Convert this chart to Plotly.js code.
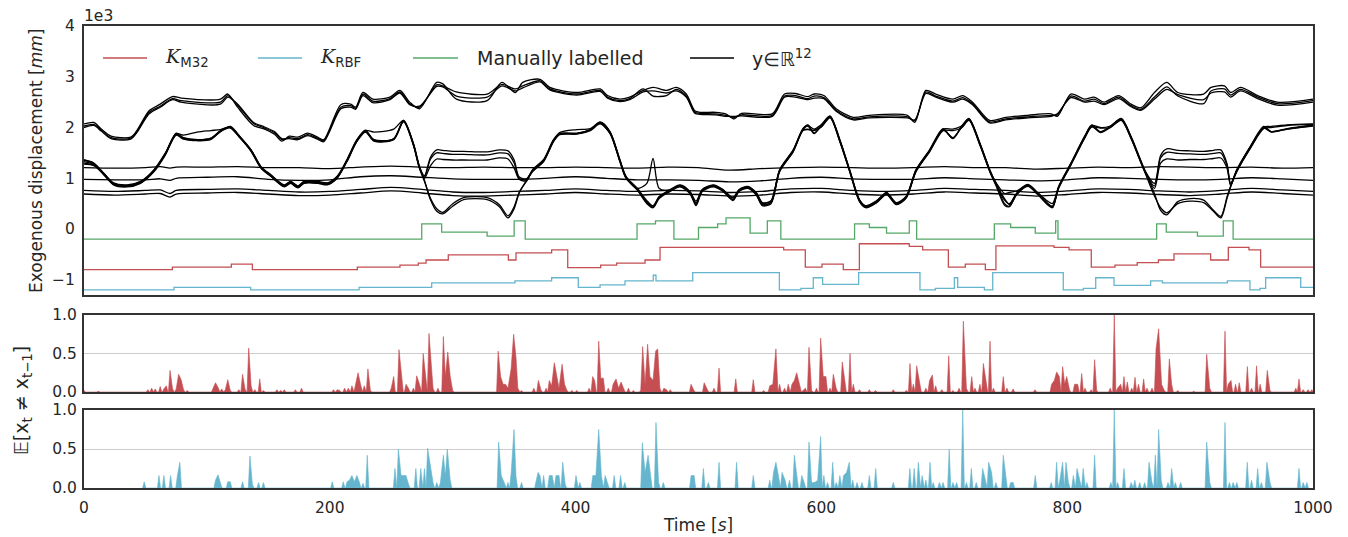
<!DOCTYPE html>
<html><head><meta charset="utf-8">
<script src="https://cdn.plot.ly/plotly-3.0.1.min.js"></script>
<style>html,body{margin:0;padding:0;background:#fff}#chart{width:1348px;height:537px}</style>
</head><body><div id="chart"></div>
<script>
// ---------- data (values in units of 1e3 mm for the top panel) ----------
const tA = [0,8,14,22,38,43,53,62,72,79,111,117,125,138,147,155,161,167,174,182,190,195,209,217,221,227,235,249,257,265,273,287,292,303,328,340,351,357,371,379,401,420,426,436,444,455,463,474,482,490,497,501,514,522,529,535,560,570,579,589,594,602,612,626,639,670,676,685,693,707,715,723,737,750,768,787,792,803,814,822,830,842,852,860,871,881,890,911,917,928,933,941,955,971,1000];
const yA1 = [2.07,2.10,1.97,1.83,1.81,1.94,2.33,2.46,2.61,2.58,2.56,2.66,2.40,2.04,1.97,1.87,1.73,1.83,1.81,1.89,1.81,1.76,2.45,2.46,2.40,2.69,2.56,2.60,2.73,2.50,2.37,2.89,2.86,2.56,2.53,2.89,2.69,2.89,2.95,2.79,2.69,2.76,2.63,2.56,2.60,2.73,2.79,2.73,2.79,2.66,2.33,2.30,2.30,2.27,2.17,2.28,2.27,2.66,2.67,2.61,2.66,2.63,2.37,2.20,2.24,2.24,2.10,2.73,2.66,2.56,2.63,2.50,2.14,2.20,2.24,2.27,2.22,2.66,2.56,2.60,2.50,2.63,2.46,2.39,2.69,2.89,2.69,2.66,2.79,2.82,2.69,2.79,2.63,2.50,2.56];
const yA2 = [2.03,2.06,1.95,1.80,1.79,1.92,2.30,2.42,2.57,2.53,2.50,2.63,2.44,2.08,1.99,1.90,1.76,1.80,1.78,1.86,1.79,1.74,2.40,2.43,2.38,2.66,2.52,2.57,2.70,2.47,2.40,2.84,2.82,2.70,2.66,2.85,2.76,2.82,2.92,2.76,2.66,2.73,2.60,2.53,2.57,2.76,2.62,2.63,2.75,2.62,2.30,2.28,2.27,2.24,2.20,2.25,2.24,2.62,2.63,2.57,2.62,2.59,2.34,2.17,2.21,2.21,2.13,2.70,2.62,2.52,2.59,2.47,2.11,2.17,2.21,2.24,2.25,2.62,2.52,2.56,2.47,2.60,2.43,2.36,2.60,2.80,2.62,2.47,2.72,2.76,2.64,2.75,2.60,2.47,2.53];
const yA3 = [2.00,2.04,1.93,1.78,1.77,1.90,2.27,2.40,2.55,2.50,2.46,2.60,2.46,2.10,2.01,1.92,1.78,1.78,1.76,1.84,1.77,1.72,2.37,2.40,2.36,2.63,2.49,2.55,2.68,2.45,2.42,2.81,2.80,2.62,2.60,2.82,2.72,2.78,2.90,2.74,2.64,2.71,2.58,2.51,2.55,2.70,2.72,2.68,2.72,2.60,2.28,2.26,2.25,2.22,2.22,2.23,2.22,2.60,2.60,2.55,2.58,2.57,2.32,2.15,2.19,2.19,2.15,2.67,2.60,2.50,2.56,2.45,2.09,2.15,2.19,2.22,2.27,2.59,2.50,2.52,2.45,2.57,2.41,2.34,2.56,2.75,2.65,2.55,2.68,2.70,2.60,2.72,2.57,2.44,2.50];

const tB = [0,8,16,24,35,46,57,66,75,81,92,103,111,119,127,136,144,152,163,168,174,179,190,198,206,214,222,229,236,252,260,268,273,277,282,287,292,300,309,328,338,345,350,354,360,365,374,382,387,401,412,420,428,436,441,450,458,463,468,477,485,493,498,503,512,520,528,533,540,547,552,559,566,577,585,589,594,600,607,615,623,631,636,645,653,661,669,677,688,699,707,714,720,729,737,742,749,753,759,768,776,784,788,793,803,814,820,827,835,844,852,863,871,876,881,890,900,911,919,925,930,933,938,949,960,966,979,1000];
const yB1 = [1.36,1.29,1.09,0.90,0.86,0.93,1.16,1.48,1.88,1.85,1.91,1.94,1.96,2.01,1.81,1.55,1.22,1.06,0.86,0.93,0.84,0.93,0.93,0.90,1.03,1.36,1.75,1.94,1.91,1.97,2.14,1.68,1.22,1.05,1.42,1.56,1.55,1.53,1.53,1.52,1.56,1.54,1.36,1.03,0.99,1.16,1.36,1.75,1.90,1.96,1.98,2.10,1.91,1.36,1.03,0.80,0.90,1.39,0.80,0.77,0.86,0.73,0.55,0.77,0.86,0.77,0.62,0.77,0.83,0.72,0.52,0.56,1.16,1.55,1.97,2.04,1.97,2.06,2.22,1.75,1.16,0.57,0.46,0.56,0.72,0.52,0.65,1.16,1.55,1.97,1.97,2.03,2.17,1.68,1.16,0.92,0.70,0.72,0.75,0.88,0.72,0.55,0.50,0.83,1.29,1.81,2.04,2.00,2.03,2.17,1.81,1.16,0.90,1.45,1.58,1.55,1.54,1.53,1.55,1.56,1.29,0.90,1.16,1.62,2.01,2.02,2.05,2.07];
const yB2 = [1.33,1.27,1.07,0.88,0.84,0.91,1.14,1.46,1.86,1.80,1.76,1.79,1.93,2.00,1.80,1.53,1.20,1.04,0.84,0.91,0.82,0.91,0.91,0.88,1.01,1.34,1.73,1.92,1.76,1.78,2.12,1.66,1.20,1.02,1.38,1.50,1.49,1.47,1.47,1.46,1.50,1.48,1.30,1.00,0.97,1.14,1.34,1.73,1.87,1.88,1.95,2.08,1.89,1.34,1.01,0.78,0.54,0.46,0.63,0.75,0.84,0.71,0.50,0.75,0.84,0.75,0.58,0.75,0.81,0.68,0.48,0.53,1.14,1.53,1.95,1.97,1.95,2.02,2.20,1.73,1.14,0.55,0.44,0.54,0.70,0.50,0.63,1.14,1.53,1.95,1.80,2.00,2.15,1.66,1.14,0.88,0.57,0.50,0.70,0.86,0.70,0.50,0.44,0.81,1.27,1.79,2.02,1.91,2.01,2.15,1.79,1.14,0.85,1.40,1.51,1.49,1.48,1.47,1.49,1.50,1.25,0.88,1.14,1.60,1.99,1.91,1.97,2.03];
const yB3 = [1.30,1.26,1.10,0.91,0.87,0.94,1.17,1.49,1.87,1.78,1.75,1.78,1.92,2.02,1.82,1.56,1.23,1.07,0.87,0.94,0.85,0.94,0.94,0.91,1.04,1.37,1.76,1.95,1.75,1.77,2.13,1.69,1.23,1.00,1.25,1.38,1.37,1.36,1.36,1.36,1.40,1.38,1.20,0.98,0.95,1.17,1.37,1.76,1.88,1.89,1.96,2.11,1.92,1.37,1.04,0.81,0.56,0.45,0.64,0.78,0.87,0.74,0.52,0.78,0.87,0.78,0.61,0.78,0.84,0.71,0.51,0.55,1.17,1.56,1.98,2.05,1.89,2.05,2.23,1.76,1.17,0.58,0.45,0.55,0.71,0.51,0.64,1.17,1.56,1.98,1.78,2.02,2.18,1.69,1.17,0.90,0.60,0.48,0.71,0.87,0.71,0.51,0.45,0.84,1.30,1.82,2.05,1.92,2.02,2.18,1.82,1.17,0.80,1.30,1.38,1.36,1.37,1.37,1.39,1.40,1.20,0.86,1.17,1.63,2.02,1.92,1.98,2.05];
const yB4 = [1.36,1.30,1.10,0.89,0.85,0.92,1.15,1.47,1.89,1.79,1.76,1.78,1.94,2.01,1.81,1.55,1.22,1.06,0.85,0.92,0.83,0.92,0.92,0.89,1.02,1.35,1.74,1.93,1.74,1.78,2.14,1.67,1.21,0.96,0.57,0.35,0.30,0.45,0.58,0.58,0.44,0.22,0.40,0.70,0.96,1.15,1.35,1.74,1.88,1.88,1.96,2.09,1.90,1.35,1.02,0.79,0.52,0.43,0.62,0.76,0.85,0.72,0.48,0.76,0.85,0.76,0.58,0.76,0.82,0.69,0.48,0.52,1.15,1.54,1.96,2.03,1.88,2.03,2.21,1.74,1.15,0.56,0.43,0.53,0.69,0.49,0.62,1.15,1.54,1.96,1.79,2.01,2.16,1.67,1.15,0.89,0.50,0.45,0.69,0.85,0.69,0.49,0.43,0.82,1.28,1.80,2.03,1.90,2.00,2.16,1.80,1.15,0.70,0.37,0.28,0.54,0.60,0.57,0.37,0.25,0.63,0.85,1.15,1.61,2.00,1.92,1.97,2.04];
const yB5 = [1.28,1.25,1.08,0.87,0.83,0.90,1.13,1.45,1.85,1.77,1.74,1.76,1.92,1.99,1.79,1.53,1.20,1.04,0.83,0.90,0.81,0.90,0.90,0.87,1.00,1.33,1.72,1.91,1.73,1.76,2.11,1.65,1.19,0.94,0.60,0.40,0.33,0.50,0.62,0.62,0.48,0.26,0.44,0.72,0.94,1.13,1.33,1.72,1.86,1.87,1.94,2.07,1.88,1.33,1.00,0.77,0.50,0.42,0.60,0.74,0.83,0.70,0.46,0.74,0.83,0.74,0.56,0.74,0.80,0.67,0.46,0.50,1.13,1.52,1.94,1.96,1.94,2.01,2.19,1.72,1.13,0.54,0.42,0.52,0.68,0.48,0.61,1.13,1.52,1.94,1.94,1.99,2.14,1.65,1.13,0.86,0.47,0.44,0.68,0.84,0.68,0.48,0.42,0.80,1.26,1.78,2.01,1.99,2.00,2.14,1.78,1.13,0.65,0.42,0.32,0.50,0.55,0.52,0.35,0.22,0.60,0.83,1.13,1.59,1.98,2.00,2.04,2.06];

const tC = [0,25,50,62,70,75,100,125,150,175,200,225,250,275,300,325,350,375,400,425,450,475,500,525,550,575,600,625,650,675,700,725,750,775,800,825,850,875,900,925,950,975,1000];
const yC1 = [1.21,1.20,1.21,1.23,1.20,1.22,1.22,1.23,1.21,1.21,1.19,1.22,1.24,1.22,1.21,1.22,1.21,1.21,1.22,1.21,1.20,1.22,1.21,1.16,1.19,1.21,1.22,1.21,1.20,1.21,1.23,1.21,1.21,1.18,1.20,1.22,1.21,1.23,1.22,1.21,1.22,1.20,1.21];
const yC2 = [0.98,0.97,0.97,0.99,0.96,1.00,1.02,1.03,0.98,0.96,0.97,1.03,1.05,1.02,0.99,0.98,0.98,1.00,1.03,1.00,0.97,0.97,0.96,0.93,0.95,1.00,1.02,0.99,0.98,0.98,1.01,0.99,0.97,0.95,0.97,1.01,1.00,0.98,0.97,0.98,1.01,0.99,0.96];
const yC3 = [0.76,0.74,0.76,0.77,0.70,0.76,0.78,0.79,0.76,0.73,0.74,0.78,0.82,0.78,0.73,0.72,0.74,0.76,0.79,0.76,0.74,0.76,0.75,0.72,0.74,0.79,0.80,0.76,0.74,0.76,0.80,0.78,0.76,0.72,0.75,0.79,0.78,0.75,0.73,0.76,0.80,0.77,0.74];
const yC4 = [0.69,0.67,0.69,0.70,0.63,0.69,0.71,0.72,0.69,0.66,0.67,0.71,0.75,0.71,0.66,0.65,0.67,0.69,0.72,0.69,0.67,0.69,0.68,0.65,0.67,0.72,0.73,0.69,0.67,0.69,0.73,0.71,0.69,0.65,0.68,0.72,0.71,0.68,0.66,0.69,0.73,0.70,0.67];

const greenSteps = [[0,-0.2],[274.8,0.1],[291,-0.06],[328,-0.14],[350,0.16],[359,-0.2],[450,0.1],[465,0.16],[480,-0.2],[500,0.03],[515.6,0.1],[522.4,0.22],[542,-0.08],[556,0.16],[567,-0.2],[627,0.1],[639,0.03],[653,-0.08],[671.5,0.16],[677.5,-0.2],[740.7,0.1],[754,0.03],[774,-0.08],[790.6,0.16],[792.5,-0.2],[872.8,0.1],[880.6,-0.06],[906,-0.14],[927,0.16],[935,-0.2],[1000,-0.2]];
const redSteps = [[0,-0.8],[71.9,-0.75],[119.9,-0.69],[137,-0.8],[222.4,-0.75],[257.1,-0.71],[272,-0.67],[278.3,-0.61],[296.4,-0.51],[345.3,-0.61],[351.5,-0.47],[380.5,-0.41],[393.6,-0.76],[420.4,-0.71],[433.4,-0.67],[456.5,-0.61],[468.7,-0.36],[569.3,-0.41],[586.9,-0.75],[600.5,-0.69],[617.8,-0.8],[630.9,-0.29],[671.5,-0.34],[682.4,-0.41],[703.3,-0.75],[717.1,-0.69],[733.4,-0.8],[742,-0.33],[789.3,-0.36],[801.5,-0.41],[819.6,-0.75],[838.9,-0.71],[857,-0.66],[874.2,-0.61],[886.9,-0.49],[916.7,-0.61],[931.1,-0.36],[947.9,-0.41],[957.4,-0.75],[1000,-0.75]];
const blueSteps = [[0,-1.2],[73.2,-1.15],[135.6,-1.2],[223.8,-1.15],[282.9,-1.06],[350.7,-1.02],[380.5,-0.96],[402.2,-1.15],[419.9,-1.10],[440.2,-1.02],[463.2,-0.91],[465.4,-1.02],[495.3,-0.86],[565.8,-1.2],[583.4,-1.17],[593.4,-0.96],[601,-1.09],[630.3,-0.86],[680.2,-1.2],[692.7,-1.17],[708.2,-0.96],[710.9,-1.15],[732.6,-1.2],[739.4,-0.86],[796.8,-1.2],[813.1,-1.17],[823.2,-0.96],[838.1,-1.11],[867.9,-1.02],[877.4,-1.06],[930.3,-1.02],[948.7,-1.2],[956.8,-1.17],[961.5,-0.96],[990,-1.15],[1000,-1.15]];

const redSpikes = [[0,0.02],[11.7,0.01],[52,0.03],[55,0.05],[58,0.04],[62,0.07],[65,0.04],[67,0.08],[70,0.28],[72,0.05],[75,0.04],[77,0.23],[79,0.16],[81,0.03],[84,0.02],
[105,0.05],[107,0.12],[109,0.06],[112,0.04],[115,0.03],[117,0.16],[119,0.02],[126,0.03],[129,0.23],[131,0.04],[134,0.57],[136,0.08],[139,0.03],[143,0.17],[146,0.02],
[157,0.03],[160,0.02],[163,0.03],[172,0.03],[177,0.05],[203,0.03],[206,0.03],[208,0.02],[212,0.05],[215,0.05],[218,0.08],[221,0.1],[223,0.25],[225,0.1],[228,0.08],[231,0.30],[233,0.02],
[250,0.05],[252,0.2],[256.3,0.55],[258.5,0.23],[262,0.1],[264,0.05],[268,0.05],[270.7,0.21],[273,0.1],[276,0.5],[278,0.15],[280.7,0.76],[282.3,0.4],[284,0.05],[288,0.05],[292.4,0.72],[294,0.2],[296,0.52],[298,0.2],[300,0.02],
[337,0.53],[339,0.2],[341,0.1],[343,0.1],[345,0.05],[347.5,0.3],[349.6,0.75],[351.5,0.45],[353,0.05],[356,0.02],[366,0.05],[369.7,0.15],[372,0.02],
[376,0.05],[378.6,0.15],[380.5,0.08],[382.7,0.38],[384.5,0.2],[386.5,0.05],[389,0.36],[391,0.1],[393,0.02],[397,0.02],[401,0.02],
[411,0.05],[413.9,0.2],[415.5,0.15],[418.8,0.66],[420.5,0.18],[422.6,0.18],[426.6,0.05],[430.5,0.1],[432.9,0.17],[435,0.05],[437,0.13],[439,0.05],[443,0.05],[447,0.02],
[453,0.02],[454.6,0.59],[456.5,0.1],[458.6,0.62],[460.5,0.2],[463,0.15],[465.1,0.53],[466.8,0.56],[468.6,0.05],[471.8,0.05],[474,0.03],[477,0.03],[493.9,0.1],[496,0.03],
[504.6,0.12],[507,0.04],[512.6,0.05],[516.7,0.31],[530.3,0.17],[544.6,0.16],
[553,0.02],[558,0.08],[560.5,0.1],[563,0.56],[566,0.1],[570,0.05],[573,0.1],[576,0.1],[578,0.15],[579.9,0.25],[582,0.1],[585,0.02],[587,0.05],[589.9,0.58],[592,0.02],
[596,0.05],[599.4,0.70],[601.5,0.2],[603.7,0.2],[607,0.05],[609.7,0.23],[612,0.05],[617,0.39],[619,0.15],[623.3,0.5],[626,0.1],[631,0.03],[639,0.03],[644,0.02],[658.5,0.03],
[669,0.02],[672.1,0.37],[674.8,0.1],[677.5,0.34],[680,0.1],[685,0.05],[688,0.15],[690.3,0.22],[693,0.08],[698,0.03],[703.6,0.47],[707,0.02],[712,0.05],[715.5,0.92],[718,0.05],[722.3,0.2],[725,0.05],[729,0.1],[731.8,0.37],[734,0.1],[737.2,0.66],[740,0.05],[748,0.2],[751,0.05],[756,0.04],
[773.8,0.03],[787.3,0.1],[789.5,0.15],[791.4,0.26],[793.6,0.2],[796.3,0.33],[798,0.1],[799.6,0.2],[802,0.02],[806,0.1],[808.5,0.1],[811.8,0.24],[814.5,0.05],[819.5,0.03],[822.3,0.42],[824,0.02],
[835,0.05],[838.3,1.0],[841,0.05],[843.5,0.1],[846.2,0.2],[848.9,0.13],[852.5,0.05],[855.2,0.19],[858,0.1],[862.2,0.17],[864.9,0.05],[869,0.05],[872.3,0.56],[874.4,0.82],[876.8,0.1],[879,0.02],[883.1,0.43],[885,0.1],[890,0.02],[903,0.01],
[913.5,0.49],[916,0.05],[928.4,0.79],[931,0.1],[933.3,0.15],[937,0.1],[940,0.12],[946.6,0.33],[950,0.05],[954.1,0.34],[957,0.1],[962.8,0.28],[965,0.02],
[986,0.05],[988.6,0.17],[992,0.03],[996,0.03],[999,0.03]];

const blueSpikes = [[49,0.08],[61,0.16],[65,0.16],[70.5,0.16],[76,0.16],[78,0.33],
[107,0.1],[109,0.17],[111,0.05],[117,0.08],[119,0.08],[129,0.08],[135,0.41],[137,0.05],[142,0.07],[146,0.07],
[202,0.08],[211,0.08],[214,0.08],[216,0.1],[218,0.16],[220,0.08],[222,0.16],[224,0.08],[227,0.06],[230.5,0.42],
[253,0.25],[255.8,0.5],[258,0.16],[260,0.16],[262,0.16],[264,0.05],
[270,0.25],[274,0.25],[277,0.25],[279.6,0.51],[281.5,0.3],[284,0.07],[287,0.07],[290,0.07],[292.4,0.42],[294,0.15],[295.6,0.5],[298,0.1],
[337.4,0.59],[339.5,0.16],[342,0.07],[345,0.07],[347.6,0.2],[349.9,0.75],[351.5,0.15],[356,0.07],
[368,0.1],[369.5,0.2],[371,0.16],[374,0.16],[378.6,0.16],[381,0.16],[384,0.16],[386.5,0.16],[389.5,0.33],[391.5,0.05],[400.3,0.16],[403.5,0.07],
[414,0.16],[416.5,0.16],[418.8,0.75],[421,0.16],[424,0.16],[426,0.07],[431.4,0.16],[436.6,0.16],[440,0.07],
[454.3,0.58],[456.5,0.2],[459,0.42],[461,0.2],[465.4,0.84],[467.5,0.07],[471.4,0.07],[494,0.16],[496.4,0.16],
[504,0.25],[508,0.07],[516.7,0.33],[531,0.33],[544.6,0.16],
[558,0.1],[561,0.2],[563,0.33],[565,0.16],[568,0.2],[570.5,0.1],[574,0.1],[578,0.42],[580,0.16],[584,0.16],[586,0.07],[589.9,0.59],[592,0.07],[594.5,0.07],
[597,0.1],[599.4,0.66],[602,0.16],[605,0.07],[609.2,0.33],[612,0.07],[615,0.16],[618,0.16],[620.5,0.2],[622.7,0.33],[625.5,0.1],[629,0.07],[633,0.07],[639,0.16],[644.2,0.25],[658.5,0.07],
[672,0.25],[675.5,0.25],[678.9,0.33],[682,0.16],[685,0.1],[688.4,0.33],[691,0.07],[696,0.07],[699,0.07],[704,0.5],[707,0.07],[710,0.07],[715,1.0],[718,0.07],[722,0.25],[726,0.07],[731.2,0.25],[733.5,0.1],[736.1,0.33],[738.5,0.2],[742,0.07],[748,0.42],[750,0.16],[754,0.07],[756,0.07],
[774,0.16],[787,0.07],[791.4,0.33],[794,0.1],[796.3,0.33],[799,0.33],[801,0.07],[805,0.16],[808,0.25],[810,0.1],[813,0.25],[816,0.07],[822.3,0.42],
[835.5,0.07],[838.3,1.0],[841,0.07],[846.2,0.25],[852,0.07],[855,0.1],[859,0.07],[863,0.07],[866.6,0.33],[869,0.07],[871.7,0.42],[874.4,0.75],[876.5,0.1],[882,0.07],[885,0.25],[888,0.07],[892.3,0.07],
[913.5,0.59],[916,0.07],[928.4,0.84],[932,0.07],[935,0.07],[938,0.07],[946.5,0.33],[950,0.1],[955,0.25],[958,0.07],[962.5,0.33],[965,0.07],
[988.6,0.25],[992,0.07],[995,0.07]];

const xTicks = [0,200,400,600,800,1000];
const yTicksTop = [-1,0,1,2,3,4];
const yTicksProb = [0,0.5,1];
const yTickTextProb = ['0.0','0.5','1.0'];

// ---------- styling ----------
const RED = '#c44e52', BLUE = '#64b5cd', GREEN = '#55a868', BLACK = '#000000';
const FONT = 'DejaVu Sans';

function spikeArea(list, hw) {
  const pts = list.slice().sort((a, b) => a[0] - b[0]);
  const x = [], y = [];
  let prev = null;
  for (const [t, h] of pts) {
    if (prev === null || t - prev > 2 * hw) {
      if (prev !== null) { x.push(prev + hw); y.push(0); }
      x.push(t - hw); y.push(0);
    }
    x.push(t); y.push(h);
    prev = t;
  }
  x.push(prev + hw); y.push(0);
  return {x, y};
}

const traces = [];
const blackLine = {color: BLACK, width: 1.3, shape: 'spline', smoothing: 0.8};
[[tA, yA1], [tA, yA2], [tA, yA3],
 [tB, yB1], [tB, yB2], [tB, yB3], [tB, yB4], [tB, yB5],
 [tC, yC1], [tC, yC2], [tC, yC3], [tC, yC4]].forEach(([t, v]) => {
  traces.push({type: 'scatter', mode: 'lines', x: t, y: v, xaxis: 'x', yaxis: 'y', line: blackLine, hoverinfo: 'skip'});
});
[[greenSteps, GREEN], [redSteps, RED], [blueSteps, BLUE]].forEach(([s, c]) => {
  traces.push({type: 'scatter', mode: 'lines', x: s.map(p => p[0]), y: s.map(p => p[1]),
    xaxis: 'x', yaxis: 'y', line: {color: c, width: 1.3, shape: 'hv'}, hoverinfo: 'skip'});
});
const ra = spikeArea(redSpikes, 1.3);
traces.push({type: 'scatter', mode: 'lines', x: ra.x, y: ra.y, xaxis: 'x2', yaxis: 'y2', fill: 'tozeroy',
  fillcolor: RED, line: {color: RED, width: 0.6}, hoverinfo: 'skip'});
const ba = spikeArea(blueSpikes, 1.3);
traces.push({type: 'scatter', mode: 'lines', x: ba.x, y: ba.y, xaxis: 'x3', yaxis: 'y3', fill: 'tozeroy',
  fillcolor: BLUE, line: {color: BLUE, width: 0.6}, hoverinfo: 'skip'});

const ax = () => ({showline: true, mirror: true, linecolor: '#333333', linewidth: 2, zeroline: false,
  ticks: '', tickfont: {family: FONT, size: 15.5, color: '#262626'}});

// helpers mapping pixel positions of the reference to paper coordinates
const PX = px => (px - 84) / 1229, PY = py => (488 - py) / 462;

const legendItems = [
  {x0: 103, x1: 147, tx: 165, color: RED, text: '<span style="font-family:DejaVu Serif"><i>K</i></span><sub>M32</sub>'},
  {x0: 258, x1: 302, tx: 320, color: BLUE, text: '<span style="font-family:DejaVu Serif"><i>K</i></span><sub>RBF</sub>'},
  {x0: 413, x1: 458, tx: 477, color: GREEN, text: 'Manually labelled'},
  {x0: 690, x1: 734, tx: 752, color: BLACK, text: 'y∈ℝ<sup>12</sup>'}
];
const shapes = legendItems.map(it => ({type: 'line', xref: 'paper', yref: 'paper',
  x0: PX(it.x0), x1: PX(it.x1), y0: PY(58), y1: PY(58), line: {color: it.color, width: 1.3}}));
const annotations = legendItems.map(it => ({xref: 'paper', yref: 'paper', x: PX(it.tx - 2), y: PY(58),
  xanchor: 'left', yanchor: 'middle', showarrow: false, text: it.text,
  font: {family: FONT, size: 19, color: '#262626'}}));
annotations.push(
  {xref: 'paper', yref: 'paper', x: PX(36), y: PY(161), xanchor: 'center', yanchor: 'middle', textangle: -90,
   showarrow: false, text: 'Exogenous displacement [<i>mm</i>]', font: {family: FONT, size: 17, color: '#262626'}},
  {xref: 'paper', yref: 'paper', x: PX(22), y: PY(401), xanchor: 'center', yanchor: 'middle', textangle: -90,
   showarrow: false, text: '𝔼[x<sub>t</sub> ≠ x<sub>t−1</sub>]', font: {family: FONT, size: 19, color: '#262626'}},
  {xref: 'paper', yref: 'paper', x: PX(698), y: PY(525), xanchor: 'center', yanchor: 'middle',
   showarrow: false, text: 'Time [<i>s</i>]', font: {family: FONT, size: 17, color: '#262626'}},
  {xref: 'paper', yref: 'paper', x: PX(82), y: PY(16), xanchor: 'left', yanchor: 'middle',
   showarrow: false, text: '1e3', font: {family: FONT, size: 15.5, color: '#262626'}}
);

const layout = {
  width: 1348, height: 537,
  margin: {l: 84, r: 35, t: 26, b: 49, pad: 0},
  paper_bgcolor: '#ffffff', plot_bgcolor: '#ffffff',
  showlegend: false,
  font: {family: FONT, color: '#262626'},
  xaxis: Object.assign(ax(), {domain: [0, 1], anchor: 'y', range: [0, 1000], showticklabels: false, showgrid: false}),
  yaxis: Object.assign(ax(), {domain: [0.4177, 1], anchor: 'x', range: [-1.3, 4], tickvals: yTicksTop, showgrid: false, ticklabelstandoff: 4}),
  xaxis2: Object.assign(ax(), {domain: [0, 1], anchor: 'y2', range: [0, 1000], showticklabels: false, showgrid: false}),
  yaxis2: Object.assign(ax(), {domain: [0.2078, 0.3745], anchor: 'x2', range: [0, 1], tickvals: yTicksProb, ticktext: yTickTextProb,
    showgrid: true, gridcolor: '#cccccc', gridwidth: 1, ticklabelstandoff: 2}),
  xaxis3: Object.assign(ax(), {domain: [0, 1], anchor: 'y3', range: [0, 1000], tickvals: xTicks, showgrid: false, ticklabelstandoff: 4}),
  yaxis3: Object.assign(ax(), {domain: [0, 0.1688], anchor: 'x3', range: [0, 1], tickvals: yTicksProb, ticktext: yTickTextProb,
    showgrid: true, gridcolor: '#cccccc', gridwidth: 1, ticklabelstandoff: 2}),
  shapes: shapes,
  annotations: annotations
};

Plotly.newPlot('chart', traces, layout, {displayModeBar: false, staticPlot: true});
</script>
</body></html>
